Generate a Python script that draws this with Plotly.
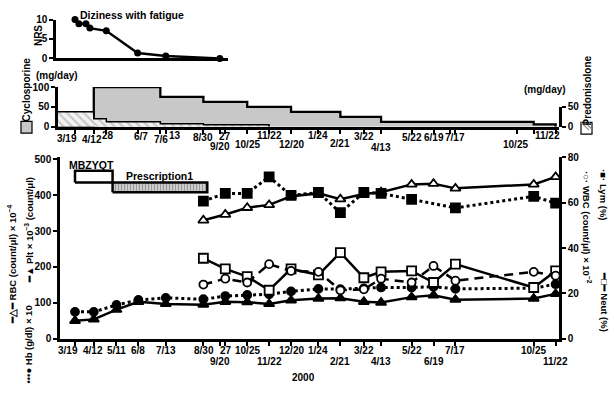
import plotly.graph_objects as go
import pandas as pd

# ---------------- data ----------------
nrs_dates = ["1999-03-19", "1999-03-24", "1999-04-02", "1999-04-07",
             "1999-04-28", "1999-06-07", "1999-07-13", "1999-09-20"]
nrs_score = [10, 8.9, 8.9, 7.8, 7.1, 1.4, 0.6, 0]

cyclosporine_dates = ["1999-02-01", "1999-04-12", "1999-07-06", "1999-08-30", "1999-10-25",
                      "1999-12-20", "2000-02-21", "2000-04-13", "2000-10-25", "2000-11-22"]
cyclosporine_dose = [0, 100, 75, 62.5, 50, 37.5, 25, 12.5, 6.25, 0]

prednisolone_dates = ["1999-02-01", "1999-04-12", "1999-04-28", "1999-07-06",
                      "1999-08-30", "1999-11-22"]
prednisolone_dose = [37.5, 20, 12.5, 7.5, 5, 0]

lab_dates = ["1999-03-19", "1999-04-12", "1999-05-11", "1999-06-08", "1999-07-13",
             "1999-08-30", "1999-09-27", "1999-10-25", "1999-11-22", "1999-12-20",
             "2000-01-24", "2000-02-21", "2000-03-22", "2000-04-13", "2000-05-22",
             "2000-06-19", "2000-07-17", "2000-10-25", "2000-11-22"]
hb_x10 = [75, 75, 94, 108, 114, 110, 119, 122, 124, 132,
          139, 138, 140, 143, 143, 145, 139, 141, 152]
plt_e3 = [50, 54, 81, 103, 97, 95, 103, 102, 97, 107,
          112, 113, 103, 101, 116, 121, 109, 112, 125]
rbc_e4 = [None, None, None, None, None, 330, 346, 365, 373, 397,
          405, 389, 403, 408, 430, 432, 419, 430, 451]
lym_pct = [None, None, None, None, None, 60.7, 64.1, 64.1, 71.4, 63.2,
           64.5, 55.6, 64.5, 64.1, 61.5, None, 57.7, 62.8, 59.8]
wbc_e2 = [None, None, None, None, None, 23.9, 26.5, 24.8, 32.9, 29.9,
          29.5, 21.4, 21.8, 26.5, 24.8, 32.1, 25.6, 29.5, 27.8]
neut_pct = [None, None, None, None, None, 35.5, 30.8, 27.4, 21.4, 30.8,
            28.2, 38.0, 26.9, 29.5, 29.9, 24.8, 32.9, 22.6, 29.9]

treat_names = ["MBZYQT", "Prescription1"]
treat_start = ["1999-03-19", "1999-05-06"]
treat_end = ["1999-05-06", "1999-09-04"]

main_tick_dates = ["1999-03-19", "1999-04-12", "1999-05-11", "1999-06-08", "1999-07-13",
                   "1999-08-30", "1999-09-20", "1999-09-27", "1999-10-25", "1999-11-22",
                   "1999-12-20", "2000-01-24", "2000-02-21", "2000-03-22", "2000-04-13",
                   "2000-05-22", "2000-06-19", "2000-07-17", "2000-10-25", "2000-11-22"]
main_tick_text = ["3/19", "4/12", "5/11", "6/8", "7/13", "8/30", "9/20", "27", "10/25",
                  "11/22", "12/20", "1/24", "2/21", "3/22", "4/13", "5/22", "6/19",
                  "7/17", "10/25", "11/22"]

mid_tick_dates = ["1999-03-19", "1999-04-12", "1999-04-28", "1999-06-07", "1999-07-06",
                  "1999-07-13", "1999-08-30", "1999-09-20", "1999-09-27", "1999-10-25",
                  "1999-11-22", "1999-12-20", "2000-01-24", "2000-02-21", "2000-03-22",
                  "2000-04-13", "2000-05-22", "2000-06-19", "2000-07-17", "2000-10-25",
                  "2000-11-22"]
mid_tick_text = ["3/19", "4/12", "28", "6/7", "7/6", "13", "8/30", "9/20", "27", "10/25",
                 "11/22", "12/20", "1/24", "2/21", "3/22", "4/13", "5/22", "6/19", "7/17",
                 "10/25", "11/22"]
mid_extra_ticks = ["2000-07-10", "2000-10-04"]

# ---------------- layout helpers ----------------
W, H = 614, 402
FONT = "Liberation Sans, Arial, sans-serif"


def fx(px):
    return px / W


def fy(py):
    return 1 - py / H


BASE = pd.Timestamp("1999-03-19")
PX0, PXD = 75.0, 0.7828  # calibration of the time scale in pixels


def px_date(px):
    return (BASE + pd.Timedelta(days=(px - PX0) / PXD)).strftime("%Y-%m-%d %H:%M")


def tfont(size=10):
    return dict(family=FONT, size=size, color="black", weight="bold")


ax = dict(showgrid=False, zeroline=False, showline=True, linecolor="black", linewidth=2.5,
          ticks="outside", tickcolor="black", tickwidth=2, ticklen=4, tickfont=tfont(10))

fig = go.Figure()

# ---- NRS panel ----
fig.add_trace(go.Scatter(x=nrs_dates, y=nrs_score, mode="lines+markers", xaxis="x", yaxis="y",
                         line=dict(color="black", width=2.5),
                         marker=dict(symbol="circle", size=7, color="black"),
                         cliponaxis=False, showlegend=False))

# ---- drug panel ----
fig.add_trace(go.Scatter(x=cyclosporine_dates, y=cyclosporine_dose, mode="lines",
                         line=dict(color="black", width=2.3, shape="hv"),
                         fill="tozeroy", fillcolor="#c8c8c8",
                         xaxis="x2", yaxis="y2", showlegend=False))
fig.add_trace(go.Scatter(x=prednisolone_dates, y=prednisolone_dose, mode="lines",
                         line=dict(color="black", width=1.5, shape="hv"),
                         fill="tozeroy",
                         fillpattern=dict(shape="\\", fgcolor="#9a9a9a", bgcolor="#f2f2f2",
                                          size=6, solidity=0.35),
                         xaxis="x2", yaxis="y2", showlegend=False))
fig.add_trace(go.Scatter(x=[], y=[], xaxis="x2", yaxis="y4", showlegend=False))

# ---- treatment boxes ----
box_levels = {"MBZYQT": (435, 468), "Prescription1": (408, 435)}
for name, s, e in zip(treat_names, treat_start, treat_end):
    lo, hi = box_levels[name]
    kw = dict(fillcolor="white")
    if name == "Prescription1":
        kw = dict(fillcolor="#e0e0e0",
                  fillpattern=dict(shape="|", fgcolor="#555555", bgcolor="#dddddd",
                                   size=3, solidity=0.5))
    fig.add_trace(go.Scatter(x=[s, e, e, s, s], y=[lo, lo, hi, hi, lo], mode="lines",
                             fill="toself", line=dict(color="black", width=2.5),
                             xaxis="x3", yaxis="y3", showlegend=False, **kw))


# ---- main lab panel ----
def series(y, axis, dash, symbol, fill, size=8, width=2.5):
    return go.Scatter(x=lab_dates, y=y, mode="lines+markers", connectgaps=True,
                      line=dict(color="black", width=width, dash=dash),
                      marker=dict(symbol=symbol, size=size, color=fill,
                                  line=dict(color="black", width=1.8)),
                      xaxis="x3", yaxis=axis, showlegend=False, cliponaxis=False)


fig.add_trace(series(hb_x10, "y3", "dot", "circle", "black", size=8, width=3))
fig.add_trace(series(plt_e3, "y3", "solid", "triangle-up", "black", size=9))
fig.add_trace(series(rbc_e4, "y3", "solid", "triangle-up", "white", size=9))
fig.add_trace(series(lym_pct, "y5", "dot", "square", "black", size=9, width=3))
fig.add_trace(series(neut_pct, "y5", "solid", "square", "white", size=9))
fig.add_trace(series(wbc_e2, "y5", "9px,6px", "circle", "white", size=8))

fig.update_layout(
    width=W, height=H, margin=dict(l=0, r=0, t=0, b=0),
    paper_bgcolor="white", plot_bgcolor="rgba(0,0,0,0)", showlegend=False,
    font=dict(family=FONT, color="black"),
    xaxis=dict(ax, type="date", domain=[fx(56), fx(228)], range=[px_date(56), px_date(228)],
               anchor="y", ticks="", showticklabels=False),
    yaxis=dict(ax, domain=[fy(54), fy(14)], range=[0, 10], tickvals=[0, 5, 10], anchor="x"),
    xaxis2=dict(ax, type="date", domain=[fx(58), fx(559)], range=[px_date(58), px_date(559)],
                anchor="y2", tickvals=mid_tick_dates + mid_extra_ticks, showticklabels=False),
    yaxis2=dict(ax, domain=[fy(124.5), fy(83.5)], range=[0, 100], tickvals=[0, 50, 100],
                anchor="x2"),
    yaxis4=dict(ax, domain=[fy(124.5), fy(104)], range=[0, 50], tickvals=[0, 50],
                anchor="x2", side="right"),
    xaxis3=dict(ax, type="date", domain=[fx(60), fx(559)], range=[px_date(60), px_date(559)],
                anchor="y3", tickvals=main_tick_dates, showticklabels=False),
    yaxis3=dict(ax, domain=[fy(343), fy(156)], range=[0, 500 * 187 / 185],
                tickvals=[0, 100, 200, 300, 400, 500], anchor="x3"),
    yaxis5=dict(ax, overlaying="y3", side="right", anchor="x3", range=[0, 80],
                tickvals=[0, 20, 40, 60, 80]),
)

annotations = []

# ---- main panel date labels (two rows) ----
main_lower = {6, 9, 12, 14, 16, 19}
main_shift = {0: -7, 1: -1, 5: 1, 7: 1}
for i, (d, t) in enumerate(zip(main_tick_dates, main_tick_text)):
    annotations.append(dict(x=d, y=fy(366 if i in main_lower else 355), xref="x3",
                            yref="paper", text=t, showarrow=False, xanchor="center",
                            yanchor="middle", xshift=main_shift.get(i, 0), font=tfont(10)))

# ---- middle panel date labels ----
mid_level = {0: 137, 1: 138, 2: 134, 3: 135, 4: 138, 5: 134, 6: 136, 7: 145, 8: 135,
             9: 143, 10: 134, 11: 143, 12: 134, 13: 142, 14: 135, 15: 146, 16: 136,
             17: 136, 18: 136, 19: 143, 20: 134}
mid_shift = {0: -8, 1: -2, 2: 2, 3: 3, 4: 1, 5: 9, 19: -18, 20: -8}
for i, (d, t) in enumerate(zip(mid_tick_dates, mid_tick_text)):
    annotations.append(dict(x=d, y=fy(mid_level[i]), xref="x2", yref="paper", text=t,
                            showarrow=False, xanchor="center", yanchor="middle",
                            xshift=mid_shift.get(i, 0), font=tfont(10)))


def ann(x, y, text, angle=0, size=10, xanchor="center", yanchor="middle"):
    annotations.append(dict(x=fx(x), y=fy(y), xref="paper", yref="paper", text=text,
                            showarrow=False, textangle=angle, xanchor=xanchor,
                            yanchor=yanchor, font=tfont(size)))


ann(78, 9, "Diziness with fatigue", xanchor="left", size=10.5)
ann(38, 31, "NRS", angle=-90)
ann(57, 72, "(mg/day)")
ann(26, 86, "Cyclosporine", angle=-90)
ann(545, 86, "(mg/day)")
ann(587, 87, "Predonisolone", angle=-90)
ann(303, 383, "2000")

# main panel axis titles
ann(12, 267, "━△━ RBC (count/μl) × 10<sup>−4</sup>", angle=-90, size=9.5)
ann(29, 231, "━▲ Plt × 10<sup>−3</sup> (count/μl)", angle=-90, size=9.5)
ann(29, 349, "•••● Hb (g/dl) × 10", angle=-90, size=9.5)
ann(587, 228, "·○· WBC (count/μl) × 10<sup>−2</sup>", angle=90, size=9.5)
ann(604, 194, "·■· Lym (%)", angle=90, size=9.5)
ann(604, 305, "━□━ Neut (%)", angle=90, size=9.5)

# treatment box labels
annotations.append(dict(x=treat_start[0], y=468, xref="x3", yref="y3", text=treat_names[0],
                        showarrow=False, xanchor="left", yanchor="bottom", xshift=-8,
                        yshift=-2, font=tfont(10.5)))
mid_p = pd.Timestamp(treat_start[1]) + (pd.Timestamp(treat_end[1]) - pd.Timestamp(treat_start[1])) / 2
annotations.append(dict(x=mid_p.strftime("%Y-%m-%d"), y=435, xref="x3", yref="y3",
                        text=treat_names[1], showarrow=False, xanchor="center",
                        yanchor="bottom", yshift=-1, font=tfont(10.5)))

fig.update_layout(annotations=annotations)

# legend swatches beside the drug axis titles
fig.add_shape(type="rect", xref="paper", yref="paper", x0=fx(21), x1=fx(32), y0=fy(131),
              y1=fy(119), fillcolor="#c8c8c8", line=dict(color="black", width=1.2))
fig.add_shape(type="rect", xref="paper", yref="paper", x0=fx(581), x1=fx(592), y0=fy(132),
              y1=fy(120), fillcolor="white", line=dict(color="black", width=1.2))
for k in range(3):
    a = 581 + k * 4
    fig.add_shape(type="line", xref="paper", yref="paper", x0=fx(a), y0=fy(120),
                  x1=fx(a + 8 if a + 8 <= 592 else 592),
                  y1=fy(128 if a + 8 <= 592 else 120 + (592 - a)),
                  line=dict(color="#888888", width=1.2))

fig.write_html("out.html", config={"displayModeBar": False},
               post_script="document.body.style.margin='0px';")
